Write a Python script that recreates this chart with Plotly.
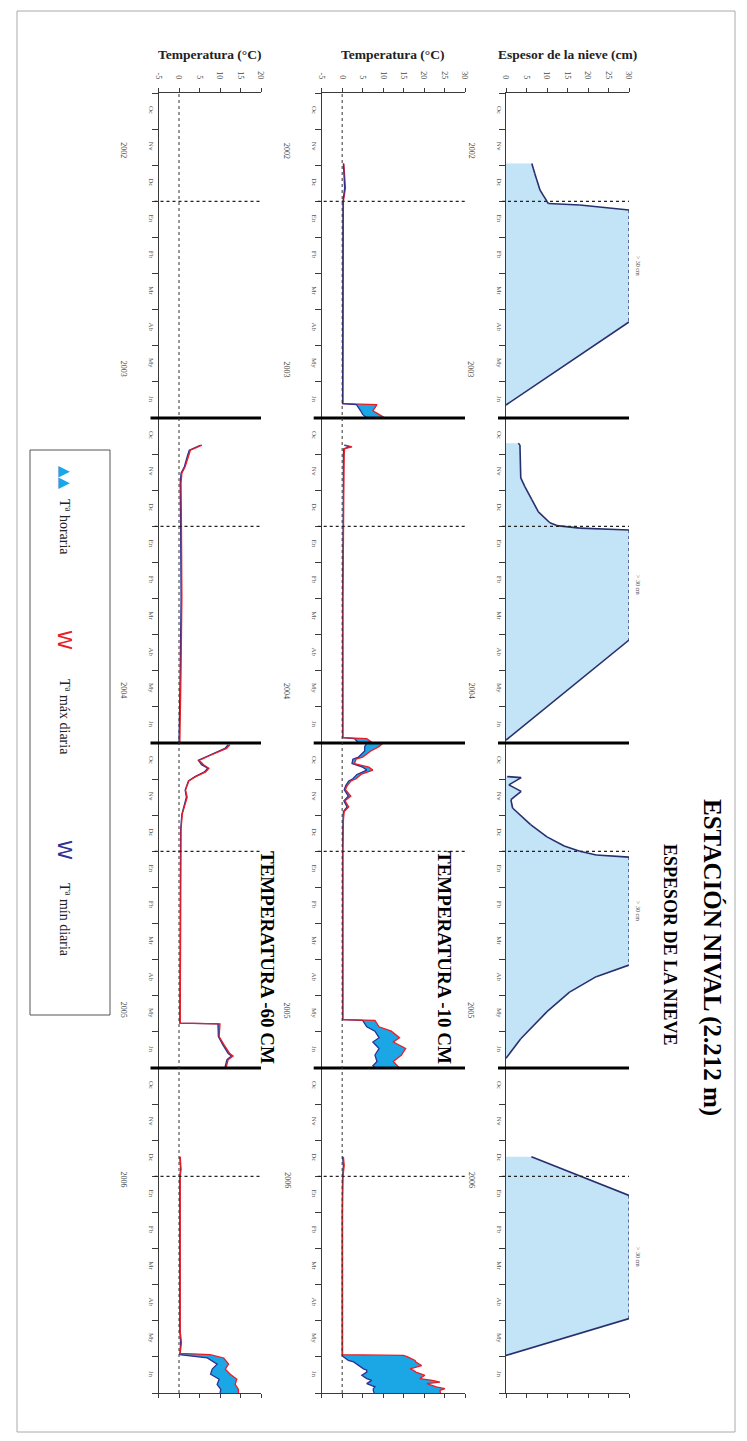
import plotly.graph_objects as go

W, H = 747, 1441
PAGE_MARGIN = 8   # the page body offsets the figure by 8 px

# ---------------- data ----------------
MONTHS = ["Oc", "Nv", "Dc", "En", "Fb", "Mr", "Ab", "My", "Jn"]
SEASON_MONTHS = 9            # Oct..Jun shown for each winter
N_SEASONS = 4                # 2002-03 .. 2005-06
JAN_OFFSET = 3               # 1 January, months after 1 October

YEARS = ["2002", "2003", "2004", "2005", "2006"]
YEAR_POS = [1.6, 7.65, 16.55, 25.4, 30.1]   # months since 1 Oct 2002 (broken axis)

SNOW_CAP = 30                # "> 30 cm" beyond the scale

# Snow depth (cm); time = months since 1 October of each winter
snow_t_0203 = [1.95, 2.22, 2.69, 3.0, 3.06, 3.1, 3.24, 6.34, 8.64]
snow_cm_0203 = [6.3, 7.0, 8.3, 10.0, 10.3, 18, 30, 30, 0]
snow_t_0304 = [0.7, 0.75, 1.66, 1.9, 2.26, 2.6, 2.9, 2.98, 3.05, 3.1, 6.15, 8.92]
snow_cm_0304 = [3.0, 3.4, 3.6, 4.6, 6.3, 7.9, 10.7, 12.4, 18, 30, 30, 0]
snow_t_0405 = [0.93, 0.96, 1.16, 1.34, 1.57, 1.8, 2.26, 2.6, 2.85, 3.0, 3.1, 3.16,
               6.15, 6.47, 6.9, 7.44, 8.19, 8.73]
snow_cm_0405 = [0.3, 3.7, 0.7, 3.7, 1.2, 1.6, 6.0, 10.0, 14.2, 18, 22, 30,
                30, 22, 15.5, 10, 3.6, 0]
snow_t_0506 = [2.46, 3.53, 6.94, 7.96]
snow_cm_0506 = [6.2, 30, 30, 0]

# Soil temperature at -10 cm (deg C): daily min / daily max (hourly range between them)
t10_t_0203 = [1.95, 2.3, 2.63, 3.0, 6.0, 8.6, 8.63, 8.7, 8.8, 8.9, 9.0]
t10_min_0203 = [0.3, 0.5, 0.6, 0.2, 0.1, 0.1, 3.5, 4.0, 4.5, 5.0, 6.0]
t10_max_0203 = [0.4, 0.7, 0.8, 0.3, 0.2, 0.2, 8.5, 8.0, 7.5, 9.0, 10.5]
t10_t_0304 = [0.75, 0.8, 0.85, 1.0, 2.0, 3.0, 5.0, 7.0, 8.85, 8.88, 9.0]
t10_min_0304 = [0.5, 1.8, 0.4, 0.3, 0.3, 0.2, 0.1, 0.1, 0.1, 3.0, 4.0]
t10_max_0304 = [0.7, 2.4, 0.6, 0.5, 0.4, 0.3, 0.2, 0.2, 0.2, 6.0, 7.5]
t10_t_0405 = [0.0, 0.1, 0.22, 0.39, 0.45, 0.57, 0.67, 0.75, 0.87, 0.99, 1.05, 1.17,
              1.29, 1.47, 1.6, 1.77, 1.9, 2.13, 3.0, 5.0, 7.66, 7.68, 7.86, 7.98,
              8.16, 8.28, 8.46, 8.64, 8.82, 8.94, 9.0]
t10_min_0405 = [6.0, 5.5, 5.5, 4.0, 2.6, 2.4, 5.0, 6.0, 3.6, 2.6, 1.6, 0.9,
                0.5, 1.5, 0.4, 1.2, 0.3, 0.2, 0.1, 0.1, 0.1, 5.0, 6.0, 8.0,
                9.0, 7.5, 9.0, 8.0, 8.5, 7.5, 8.0]
t10_max_0405 = [10.0, 9.0, 7.0, 5.0, 3.4, 3.0, 6.5, 7.5, 4.6, 3.4, 2.2, 1.3,
                0.8, 2.1, 0.7, 1.6, 0.5, 0.3, 0.2, 0.2, 0.2, 8.0, 9.0, 12.0,
                14.0, 12.5, 15.5, 14.5, 12.5, 13.5, 14.0]
t10_t_0506 = [2.46, 2.7, 3.0, 4.0, 6.0, 7.94, 7.96, 8.0, 8.1, 8.14, 8.24, 8.33,
              8.37, 8.42, 8.51, 8.6, 8.65, 8.7, 8.74, 8.83, 8.88, 8.93, 9.0]
t10_min_0506 = [0.1, 0.3, 0.1, 0.0, 0.0, 0.0, 0.0, 0.3, 1.5, 2.8, 4.0, 5.2,
                6.0, 6.0, 4.8, 6.0, 7.2, 6.5, 6.0, 8.0, 7.6, 7.6, 7.8]
t10_max_0506 = [0.3, 0.5, 0.2, 0.1, 0.1, 0.1, 15.0, 16.0, 17.8, 18.0, 19.4, 16.6,
                17.4, 18.0, 20.2, 19.0, 22.0, 23.9, 20.7, 23.0, 25.1, 23.9, 24.0]

# Soil temperature at -60 cm (deg C)
t60_t_0203 = []
t60_min_0203 = []
t60_max_0203 = []
t60_t_0304 = [0.75, 0.89, 1.03, 1.35, 1.53, 1.8, 3.0, 5.0, 7.0, 8.5, 9.0]
t60_min_0304 = [5.3, 2.5, 2.1, 1.3, 0.5, 0.3, 0.4, 0.5, 0.3, 0.1, 0.0]
t60_max_0304 = [5.6, 2.8, 2.4, 1.5, 0.7, 0.5, 0.6, 0.7, 0.5, 0.3, 0.2]
t60_t_0405 = [0.05, 0.15, 0.36, 0.48, 0.6, 0.7, 0.8, 0.93, 1.05, 1.3, 1.5, 1.8,
              1.97, 2.4, 4.0, 6.0, 7.76, 7.78, 8.13, 8.36, 8.6, 8.67, 8.77, 8.94, 9.0]
t60_min_0405 = [12.0, 11.2, 7.0, 4.7, 5.5, 7.0, 6.2, 3.9, 2.3, 1.5, 1.8, 1.1,
                0.7, 0.4, 0.3, 0.2, 0.2, 9.5, 9.6, 10.7, 12.0, 12.8, 11.7, 11.3, 11.2]
t60_max_0405 = [12.4, 11.6, 7.3, 4.9, 6.0, 7.3, 6.5, 4.1, 2.4, 1.6, 2.0, 1.3,
                0.8, 0.5, 0.4, 0.3, 0.3, 10.0, 9.8, 11.0, 12.4, 13.2, 12.0, 11.6, 11.6]
t60_t_0506 = [2.46, 2.8, 3.0, 5.0, 7.3, 7.6, 7.9, 7.94, 8.03, 8.2, 8.34, 8.48,
              8.62, 8.76, 8.9, 9.0]
t60_min_0506 = [0.2, 0.4, 0.2, 0.2, 0.2, 0.4, 0.2, 0.2, 6.9, 9.3, 8.1, 7.7,
                9.8, 9.3, 10.2, 10.0]
t60_max_0506 = [0.3, 0.5, 0.3, 0.3, 0.3, 0.6, 0.3, 7.6, 10.9, 12.1, 11.3, 12.5,
                14.1, 13.7, 14.5, 14.5]

SNOW_TICKS = [0, 5, 10, 15, 20, 25, 30]
T10_TICKS = [-5, 0, 5, 10, 15, 20, 25, 30]
T60_TICKS = [-5, 0, 5, 10, 15, 20]

SNOW = [(snow_t_0203, snow_cm_0203), (snow_t_0304, snow_cm_0304),
        (snow_t_0405, snow_cm_0405), (snow_t_0506, snow_cm_0506)]
T10 = [(t10_t_0203, t10_min_0203, t10_max_0203), (t10_t_0304, t10_min_0304, t10_max_0304),
       (t10_t_0405, t10_min_0405, t10_max_0405), (t10_t_0506, t10_min_0506, t10_max_0506)]
T60 = [(t60_t_0203, t60_min_0203, t60_max_0203), (t60_t_0304, t60_min_0304, t60_max_0304),
       (t60_t_0405, t60_min_0405, t60_max_0405), (t60_t_0506, t60_min_0506, t60_max_0506)]
T10_MIN_ON_TOP = [True, False, False, False]
T60_MIN_ON_TOP = [False, False, False, False]

# ---------------- style ----------------
SERIF = "Liberation Serif"
AX = "#3a3a3a"
NAVY = "#27306e"
NAVY_T = "#2e3192"
RED = "#ec1c24"
CYAN = "#1ba6e6"
SNOW_FILL = "#c3e4f6"
TICKFONT = dict(family=SERIF, size=8, color="#444")
MONTHFONT = dict(family=SERIF, size=7, color="#555")

FW, FH = W - PAGE_MARGIN, H - PAGE_MARGIN


def px(x):
    return (x - PAGE_MARGIN) / FW


def py(y):
    return 1 - (y - PAGE_MARGIN) / FH


YDOM = [py(1393), py(93)]
P1 = [px(506), px(629)]
P2 = [px(321.7), px(465)]
P3 = [px(158.5), px(261)]
TOTAL = SEASON_MONTHS * N_SEASONS


def gt(season, ts):
    return [season * SEASON_MONTHS + t for t in ts]


fig = go.Figure()

# snow depth
for s, (ts, cm) in enumerate(SNOW):
    if not ts:
        continue
    y = gt(s, ts)
    fig.add_trace(go.Scatter(x=cm, y=y, mode="lines", fill="tozerox", fillcolor=SNOW_FILL,
                             line=dict(width=0), xaxis="x", yaxis="y", hoverinfo="skip"))
    sx, sy, dx, dy = [], [], [], []
    for i in range(len(y) - 1):
        if cm[i] >= SNOW_CAP and cm[i + 1] >= SNOW_CAP:
            dx += [cm[i], cm[i + 1], None]
            dy += [y[i], y[i + 1], None]
        else:
            sx += [cm[i], cm[i + 1], None]
            sy += [y[i], y[i + 1], None]
    fig.add_trace(go.Scatter(x=sx, y=sy, mode="lines", line=dict(color=NAVY, width=1.6),
                             xaxis="x", yaxis="y", hoverinfo="skip"))
    fig.add_trace(go.Scatter(x=dx, y=dy, mode="lines", line=dict(color=NAVY, width=1.3, dash="dot"),
                             xaxis="x", yaxis="y", hoverinfo="skip"))

# temperatures: hourly range filled in cyan between daily min (navy) and daily max (red)
for xa, ya, data, order in [("x2", "y2", T10, T10_MIN_ON_TOP), ("x3", "y3", T60, T60_MIN_ON_TOP)]:
    for s, (ts, tmin, tmax) in enumerate(data):
        if not ts:
            continue
        y = gt(s, ts)
        series = [(tmin, NAVY_T), (tmax, RED)]
        if order[s]:
            series = series[::-1]
        for k, (vals, col) in enumerate(series):
            fig.add_trace(go.Scatter(x=vals, y=y, mode="lines",
                                     fill="tonextx" if k == 1 else "none", fillcolor=CYAN,
                                     line=dict(color=col, width=1.3), xaxis=xa, yaxis=ya,
                                     hoverinfo="skip"))


def xax(dom, rng, tv):
    return dict(domain=dom, range=rng, side="top", tickmode="array", tickvals=tv,
                ticktext=[str(v) for v in tv], tickangle=90, ticks="outside", ticklen=4,
                tickcolor=AX, showline=True, linecolor=AX, linewidth=1, mirror="ticks",
                showgrid=False, zeroline=False, tickfont=TICKFONT, fixedrange=True,
                automargin=False, ticklabelstandoff=6)


def xbot(over, rng, tv):
    return dict(overlaying=over, anchor="y", side="bottom", range=rng, tickmode="array",
                tickvals=tv, ticktext=[str(v) for v in tv], tickangle=90, ticks="",
                showline=False, showgrid=False, zeroline=False, tickfont=TICKFONT,
                automargin=False, ticklabelstandoff=11)


def yax(anchor):
    return dict(domain=YDOM, range=[TOTAL, 0], anchor=anchor, tickmode="array",
                tickvals=[m + 0.5 for m in range(TOTAL)], ticktext=MONTHS * N_SEASONS,
                tickangle=90, ticks="", showline=True, linecolor=AX, linewidth=1,
                showgrid=False, zeroline=False, tickfont=MONTHFONT, automargin=False,
                fixedrange=True,
                minor=dict(tickmode="array", tickvals=list(range(TOTAL + 1)), ticks="outside",
                           ticklen=6, tickcolor=AX))


fig.update_layout(
    width=FW, height=FH, margin=dict(l=0, r=0, t=0, b=0),
    paper_bgcolor="white", plot_bgcolor="rgba(0,0,0,0)", showlegend=False,
    xaxis=dict(xax(P1, [0, 30], SNOW_TICKS), anchor="y"),
    xaxis2=dict(xax(P2, [-5, 30], T10_TICKS), anchor="y2"),
    xaxis3=dict(xax(P3, [-5, 20], T60_TICKS), anchor="y3"),
    xaxis4=xbot("x", [0, 30], SNOW_TICKS),
    xaxis5=dict(xbot("x2", [-5, 30], T10_TICKS), anchor="y2"),
    xaxis6=dict(xbot("x3", [-5, 20], T60_TICKS), anchor="y3"),
    yaxis=yax("x"),
    yaxis2=yax("x2"),
    yaxis3=yax("x3"),
)

shapes = []
panels = [("x", "y", P1), ("x2", "y2", P2), ("x3", "y3", P3)]
for xa, ya, dom in panels:
    for s in range(N_SEASONS):
        shapes.append(dict(type="line", xref="paper", yref=ya, x0=dom[0] - 4 / FW, x1=dom[1],
                           y0=s * SEASON_MONTHS + JAN_OFFSET, y1=s * SEASON_MONTHS + JAN_OFFSET,
                           line=dict(color="#222", width=1.3, dash="dot")))
    for s in range(1, N_SEASONS):
        shapes.append(dict(type="line", xref="paper", yref=ya, x0=dom[0] - 8 / FW, x1=dom[1],
                           y0=s * SEASON_MONTHS, y1=s * SEASON_MONTHS,
                           line=dict(color="black", width=3.2)))
for xa in ["x2", "x3"]:
    ya = xa.replace("x", "y")
    shapes.append(dict(type="line", xref=xa, yref=ya + " domain", x0=0, x1=0, y0=0, y1=1,
                       line=dict(color="#333", width=1, dash="dot")))
# legend box and outer frame
shapes.append(dict(type="rect", xref="paper", yref="paper", x0=px(30), x1=px(110),
                   y0=py(1015), y1=py(450), line=dict(color="#555", width=1)))
shapes.append(dict(type="rect", xref="paper", yref="paper", x0=px(17), x1=px(735),
                   y0=py(1432), y1=py(11), line=dict(color="#aaa", width=1)))
fig.update_layout(shapes=shapes)


def note(x, y, text, size, color="#222", angle=0, family=SERIF, xref="paper", yref="paper", **kw):
    d = dict(xref=xref, yref=yref, x=x, y=y, text=text, showarrow=False, textangle=angle,
             xanchor="center", yanchor="middle", font=dict(family=family, size=size, color=color))
    d.update(kw)
    return d


ann = []
# axis titles
for dom, txt in [(P1, "Espesor de la nieve (cm)"), (P2, "Temperatura (°C)"), (P3, "Temperatura (°C)")]:
    ann.append(note((dom[0] + dom[1]) / 2, py(55), "<b>" + txt + "</b>", 13.5))
# year labels
for xa, ya, dom in panels:
    for yr, pos in zip(YEARS, YEAR_POS):
        ann.append(note(dom[0] - 35 / FW, pos, yr, 8, "#444", 90, yref=ya))
# "> 30 cm" labels at plateau midpoints
for s, (ts, cm) in enumerate(SNOW):
    plateau = [t for t, v in zip(ts, cm) if v >= SNOW_CAP]
    if plateau:
        mid = s * SEASON_MONTHS + (plateau[0] + plateau[-1]) / 2
        ann.append(note(SNOW_CAP, mid, "> 30 cm", 6, "#444", 90, xref="x", yref="y", xshift=9))
# titles
ann.append(note(px(712), py(957), "<b>ESTACIÓN NIVAL (2.212 m)</b>", 25, "black", 90))
ann.append(note(px(670), py(945), "<b>ESPESOR DE LA NIEVE</b>", 18, "black", 90))
ann.append(note(px(444), py(957), "<b>TEMPERATURA -10 CM</b>", 19, "black", 90))
ann.append(note(px(267), py(957), "<b>TEMPERATURA -60 CM</b>", 19, "black", 90))
# legend
LEG = [("▲▲", CYAN, "Tª horaria", 478, 527, 15),
       ("W", RED, "Tª máx diaria", 640, 717, 20),
       ("W", NAVY_T, "Tª mín diaria", 850, 920, 20)]
for glyph, col, txt, gy, ty, gs in LEG:
    ann.append(note(px(65), py(gy), glyph, gs, col, 90, family="DejaVu Sans"))
    ann.append(note(px(65), py(ty), txt, 14, "#222", 90))
fig.update_layout(annotations=ann)

fig.write_html("out.html")
